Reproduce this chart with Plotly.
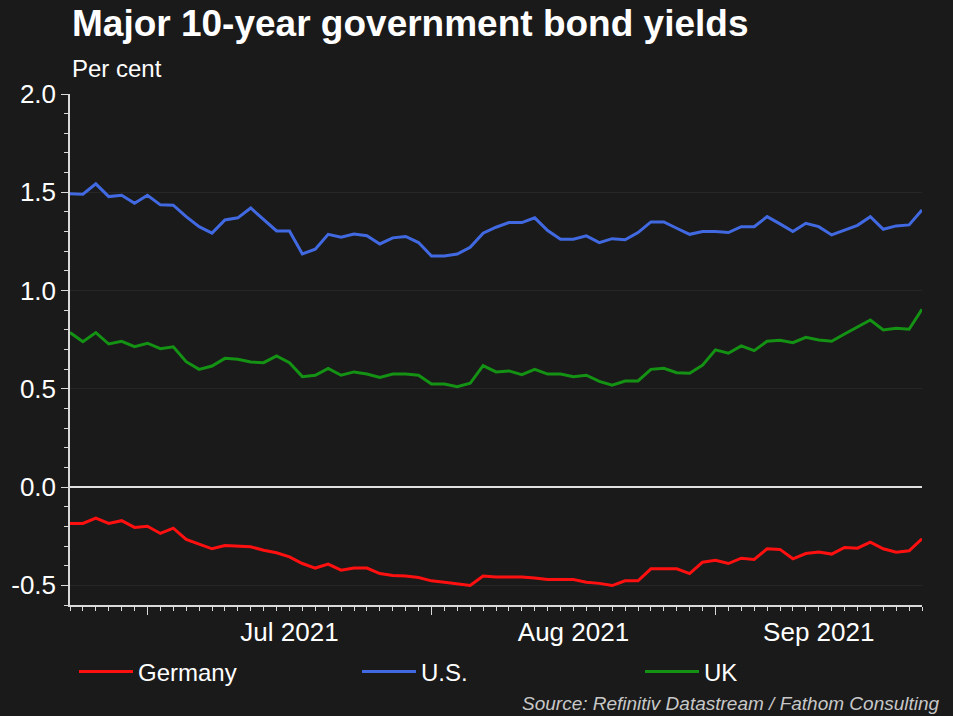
import pandas as pd
import plotly.graph_objects as go

# ---- data (business days, 23 Jun 2021 - 23 Sep 2021) ----
dates = [d.strftime("%Y-%m-%d") for d in pd.bdate_range("2021-06-23", "2021-09-23")]

germany = [-0.185, -0.185, -0.158, -0.185, -0.171, -0.205, -0.199, -0.236, -0.209, -0.266,
           -0.290, -0.314, -0.297, -0.300, -0.304, -0.321, -0.334, -0.355, -0.389, -0.412,
           -0.392, -0.423, -0.412, -0.412, -0.440, -0.450, -0.453, -0.460, -0.477, -0.484,
           -0.494, -0.501, -0.453, -0.457, -0.457, -0.457, -0.463, -0.470, -0.470, -0.470,
           -0.484, -0.490, -0.501, -0.477, -0.477, -0.416, -0.416, -0.416, -0.440, -0.382,
           -0.372, -0.389, -0.362, -0.368, -0.314, -0.317, -0.365, -0.338, -0.331, -0.341,
           -0.307, -0.311, -0.280, -0.314, -0.331, -0.324, -0.263]

us = [1.492, 1.490, 1.543, 1.478, 1.485, 1.444, 1.485, 1.436, 1.434, 1.376,
      1.325, 1.292, 1.359, 1.370, 1.420, 1.359, 1.303, 1.303, 1.186, 1.210,
      1.286, 1.271, 1.288, 1.279, 1.237, 1.268, 1.275, 1.244, 1.176, 1.176,
      1.186, 1.220, 1.292, 1.322, 1.346, 1.346, 1.370, 1.305, 1.261, 1.261,
      1.278, 1.244, 1.264, 1.258, 1.295, 1.349, 1.349, 1.317, 1.286, 1.300,
      1.300, 1.295, 1.325, 1.325, 1.376, 1.339, 1.300, 1.342, 1.325, 1.283,
      1.309, 1.332, 1.376, 1.312, 1.329, 1.334, 1.410]

uk = [0.786, 0.740, 0.786, 0.728, 0.742, 0.714, 0.732, 0.704, 0.714, 0.638,
      0.599, 0.616, 0.655, 0.650, 0.636, 0.633, 0.667, 0.633, 0.562, 0.569,
      0.604, 0.569, 0.586, 0.575, 0.558, 0.575, 0.575, 0.569, 0.524, 0.524,
      0.511, 0.528, 0.618, 0.586, 0.591, 0.572, 0.599, 0.575, 0.575, 0.562,
      0.569, 0.538, 0.519, 0.540, 0.540, 0.599, 0.604, 0.582, 0.579, 0.620,
      0.698, 0.681, 0.718, 0.694, 0.742, 0.747, 0.735, 0.762, 0.748, 0.742,
      0.779, 0.816, 0.850, 0.799, 0.808, 0.803, 0.905]

month_starts = ["2021-07-01", "2021-08-02", "2021-09-01"]
month_label_pos = ["2021-07-16", "2021-08-17", "2021-09-13"]
month_labels = ["Jul 2021", "Aug 2021", "Sep 2021"]
y_ticks = [-0.5, 0.0, 0.5, 1.0, 1.5, 2.0]
y_ticktext = ["-0.5", "0.0", "0.5", "1.0", "1.5", "2.0"]

# (name, values, colour, x-axis used)
series = [("Germany", germany, "#ff1010", "x"), ("U.S.", us, "#4169e1", "x"),
          ("UK", uk, "#149214", "x2")]

BG = "#1a1a1a"
FONT = "Arial, 'Liberation Sans', sans-serif"
AXC = "#d9d9d9"

fig = go.Figure()
for name, vals, col, xa in series:
    fig.add_trace(go.Scatter(x=dates, y=vals, name=name, mode="lines", xaxis=xa, yaxis="y",
                             line=dict(color=col, width=3)))

breaks = [dict(bounds=["sat", "mon"])]
xrange_ = [dates[0], dates[-1]]

fig.update_layout(
    width=953, height=716,
    paper_bgcolor=BG, plot_bgcolor=BG,
    margin=dict(l=70, r=31, t=94, b=111, autoexpand=False),
    font=dict(family=FONT, color="white", size=22),
    showlegend=True,
    legend=dict(orientation="h", x=0.0047, xanchor="left", y=-0.131, yanchor="middle",
                font=dict(size=24, color="white"), bgcolor="rgba(0,0,0,0)",
                entrywidth=214, entrywidthmode="pixels", itemwidth=54,
                traceorder="normal"),
    xaxis=dict(
        type="date", range=xrange_, rangebreaks=breaks, automargin=False,
        tickmode="array", tickvals=month_starts, ticktext=["", "", ""],
        ticks="outside", ticklen=8, tickwidth=1, tickcolor=AXC,
        showline=True, linecolor=AXC, linewidth=1.5,
        showgrid=False, zeroline=False,
        minor=dict(dtick=86400000, ticks="outside", ticklen=4, tickwidth=1,
                   tickcolor=AXC, showgrid=False),
    ),
    xaxis2=dict(
        type="date", range=xrange_, rangebreaks=breaks, overlaying="x", anchor="y",
        side="bottom", tickmode="array", tickvals=month_label_pos, ticktext=month_labels,
        ticks="outside", ticklen=4, tickcolor="rgba(0,0,0,0)", automargin=False,
        tickfont=dict(size=26, color="white"),
        showline=False, showgrid=False, zeroline=False,
    ),
    yaxis=dict(
        range=[-0.6, 2.0], tickmode="array", tickvals=y_ticks, ticktext=y_ticktext,
        tickfont=dict(size=26, color="white"), automargin=False,
        ticks="outside", ticklen=7, tickwidth=1, tickcolor=AXC,
        showline=True, linecolor=AXC, linewidth=1.5,
        showgrid=True, gridcolor="#262626", gridwidth=1,
        zeroline=True, zerolinecolor="#e0e0e0", zerolinewidth=1.5,
        minor=dict(dtick=0.1, ticks="outside", ticklen=4, tickwidth=1,
                   tickcolor=AXC, showgrid=False),
    ),
)

fig.add_annotation(text="<b>Major 10-year government bond yields</b>", xref="paper", yref="paper",
                   x=0, y=1.137, xanchor="left", yanchor="middle", showarrow=False,
                   font=dict(size=37, color="white", family=FONT))
fig.add_annotation(text="Per cent", xref="paper", yref="paper",
                   x=0, y=1.049, xanchor="left", yanchor="middle", showarrow=False,
                   font=dict(size=24, color="white", family=FONT))
fig.add_annotation(text="<i>Source: Refinitiv Datastream / Fathom Consulting</i>", xref="paper",
                   yref="paper", x=1.023, y=-0.192, xanchor="right", yanchor="middle",
                   showarrow=False, font=dict(size=19, color="#c8c8c8", family=FONT))

fig.write_html("out.html", config={"displayModeBar": False},
               post_script="document.body.style.margin='0';")
